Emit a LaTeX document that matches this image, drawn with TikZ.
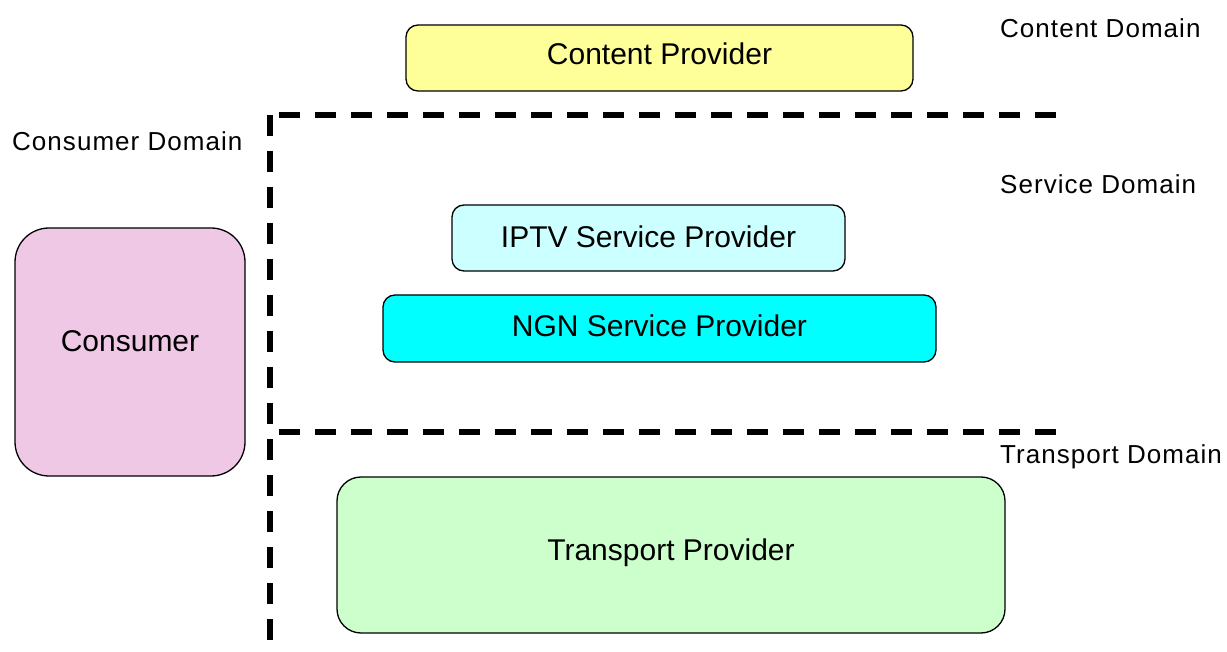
\documentclass[tikz,border=0pt]{standalone}
\usepackage{fontspec}
\setmainfont{Liberation Sans}
\usepackage{tikz}
\usetikzlibrary{positioning}
\definecolor{contentfill}{RGB}{255,255,153}
\definecolor{iptvfill}{RGB}{204,255,255}
\definecolor{ngnfill}{RGB}{0,255,255}
\definecolor{consumerfill}{RGB}{239,200,230}
\definecolor{transportfill}{RGB}{204,255,204}

\begin{document}
\begin{tikzpicture}[x=1pt,y=-1pt,
    box/.style={draw,line width=1.3pt,rounded corners=12pt,inner sep=0pt,
      font=\fontsize{30}{36}\selectfont},
    domainlabel/.style={anchor=west,inner sep=0pt,
      font=\fontsize{26}{31}\selectfont\addfontfeatures{LetterSpace=4}},
    border/.style={line width=6pt,dash pattern=on 21pt off 15pt}]
    \useasboundingbox (0,0) rectangle (1227,652);
    % providers
    \node[box,fill=contentfill,minimum width=507pt,minimum height=66pt,text depth=8pt] (content) at (659.5,58) {Content Provider};
    \node[box,fill=iptvfill,minimum width=393pt,minimum height=66pt,text depth=2pt] (iptv) at (648.5,238) {IPTV Service Provider};
    \node[box,fill=ngnfill,minimum width=553pt,minimum height=67pt,text depth=5pt] (ngn) at (659.5,328.5) {NGN Service Provider};
    \node[box,fill=consumerfill,rounded corners=34pt,minimum width=230pt,minimum height=248pt,text depth=22pt] (consumer) at (130,352) {Consumer};
    \node[box,fill=transportfill,rounded corners=24pt,minimum width=668pt,minimum height=156pt,text depth=10pt] (transport) at (671,555) {Transport Provider};
    % domains
    \node[domainlabel] (contentdom) at (1000,28) {Content Domain};
    \node[domainlabel] (consumerdom) at (12,141) {Consumer Domain};
    \node[domainlabel] (servicedom) at (1000,184) {Service Domain};
    \node[domainlabel] (transportdom) at (1000,457) {Transport Domain};
    % borders
    \coordinate (corner) at (270,115);
    \coordinate (topend) at (1057,115);
    \coordinate (foot) at (270,660);
    \coordinate (midstart) at (279,432);
    \coordinate (midend) at (1057,432);
    \draw[border] (corner) -- (foot);
    \draw[border] ([xshift=9pt]corner) -- (topend);
    \draw[border] (midstart) -- (midend);
\end{tikzpicture}
\end{document}
